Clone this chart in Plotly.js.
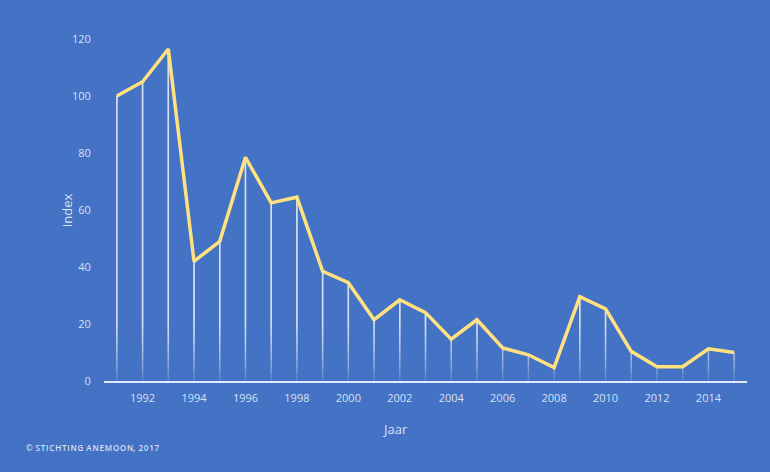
<html>
    <head>
        <meta charset="utf-8">
        <script src="https://cdn.plot.ly/plotly-3.0.1.min.js"></script>
        <style>
            body { margin: 0; background: #4472c4; }
            #chart { width: 770px; height: 472px; }
        </style>
    </head>
    <body>
        <div id="chart"></div>
    </body>
    <script>
        // index per year (1991 = 100)
        var years = [1991, 1992, 1993, 1994, 1995, 1996, 1997, 1998, 1999, 2000, 2001, 2002, 2003,
                     2004, 2005, 2006, 2007, 2008, 2009, 2010, 2011, 2012, 2013, 2014, 2015];
        var index = [100, 105, 116.5, 42, 49, 78.5, 62.5, 64.5, 38.5, 34.5, 21.5, 28.5, 24,
                     14.7, 21.5, 11.6, 9.2, 4.7, 29.6, 25.3, 10.4, 5, 5, 11.3, 10];
        var xTicks = [1992, 1994, 1996, 1998, 2000, 2002, 2004, 2006, 2008, 2010, 2012, 2014];

        var fg = 'rgba(225,234,250,0.95)';
        var font = 'Open Sans, Liberation Sans, sans-serif';

        // drop lines: stacked error bars so they fade out towards the axis
        var cuts = [0, 2.5, 5, 7.5, 10, 12.5, 15, 17.5, 20];
        var traces = cuts.map(function (c) {
            return {
                x: years,
                y: index,
                type: 'scatter',
                mode: 'markers',
                marker: {size: 1, color: 'rgba(0,0,0,0)'},
                hoverinfo: 'skip',
                showlegend: false,
                error_y: {
                    type: 'data',
                    symmetric: false,
                    array: index.map(function () { return 0; }),
                    arrayminus: index.map(function (v) { return Math.max(0, v - c); }),
                    color: 'rgba(255,255,255,0.16)',
                    thickness: 1.5,
                    width: 0
                }
            };
        });

        traces.push({
            x: years,
            y: index,
            type: 'scatter',
            mode: 'lines',
            line: {color: '#ffe27f', width: 3.5},
            showlegend: false
        });

        var layout = {
            width: 770,
            height: 472,
            paper_bgcolor: '#4472c4',
            plot_bgcolor: '#4472c4',
            margin: {l: 104, r: 23, t: 39, b: 91},
            font: {family: font, color: fg, size: 11},
            xaxis: {
                range: [1990.5, 2015.5],
                tickvals: xTicks,
                ticktext: xTicks.map(String),
                showgrid: false,
                zeroline: false,
                showline: true,
                linecolor: 'rgba(235,240,252,0.95)',
                linewidth: 1.5,
                ticks: 'outside',
                ticklen: 6,
                tickcolor: 'rgba(0,0,0,0)',
                tickfont: {size: 11, color: fg}
            },
            yaxis: {
                range: [0, 120],
                tickvals: [0, 20, 40, 60, 80, 100, 120],
                showgrid: false,
                zeroline: false,
                showline: false,
                ticks: 'outside',
                ticklen: 10,
                tickcolor: 'rgba(0,0,0,0)',
                tickfont: {size: 11, color: fg}
            },
            annotations: [{
                xref: 'paper', yref: 'paper',
                x: -0.057, y: 0.5,
                xanchor: 'center', yanchor: 'middle',
                text: 'Index',
                textangle: -90,
                showarrow: false,
                font: {size: 13, color: fg}
            }, {
                xref: 'paper', yref: 'paper',
                x: 0.453, y: -0.14,
                xanchor: 'center', yanchor: 'middle',
                text: 'Jaar',
                showarrow: false,
                font: {size: 13, color: fg}
            }, {
                xref: 'paper', yref: 'paper',
                x: -0.125, y: -0.193,
                xanchor: 'left', yanchor: 'middle',
                text: '©&#8202; S&#8202;T&#8202;I&#8202;C&#8202;H&#8202;T&#8202;I&#8202;N&#8202;G&#8202; A&#8202;N&#8202;E&#8202;M&#8202;O&#8202;O&#8202;N,&#8202; 2&#8202;0&#8202;1&#8202;7',
                showarrow: false,
                font: {size: 8, color: fg, family: font, weight: 600}
            }]
        };

        Plotly.newPlot('chart', traces, layout, {displayModeBar: false, staticPlot: true});
    </script>
</html>
